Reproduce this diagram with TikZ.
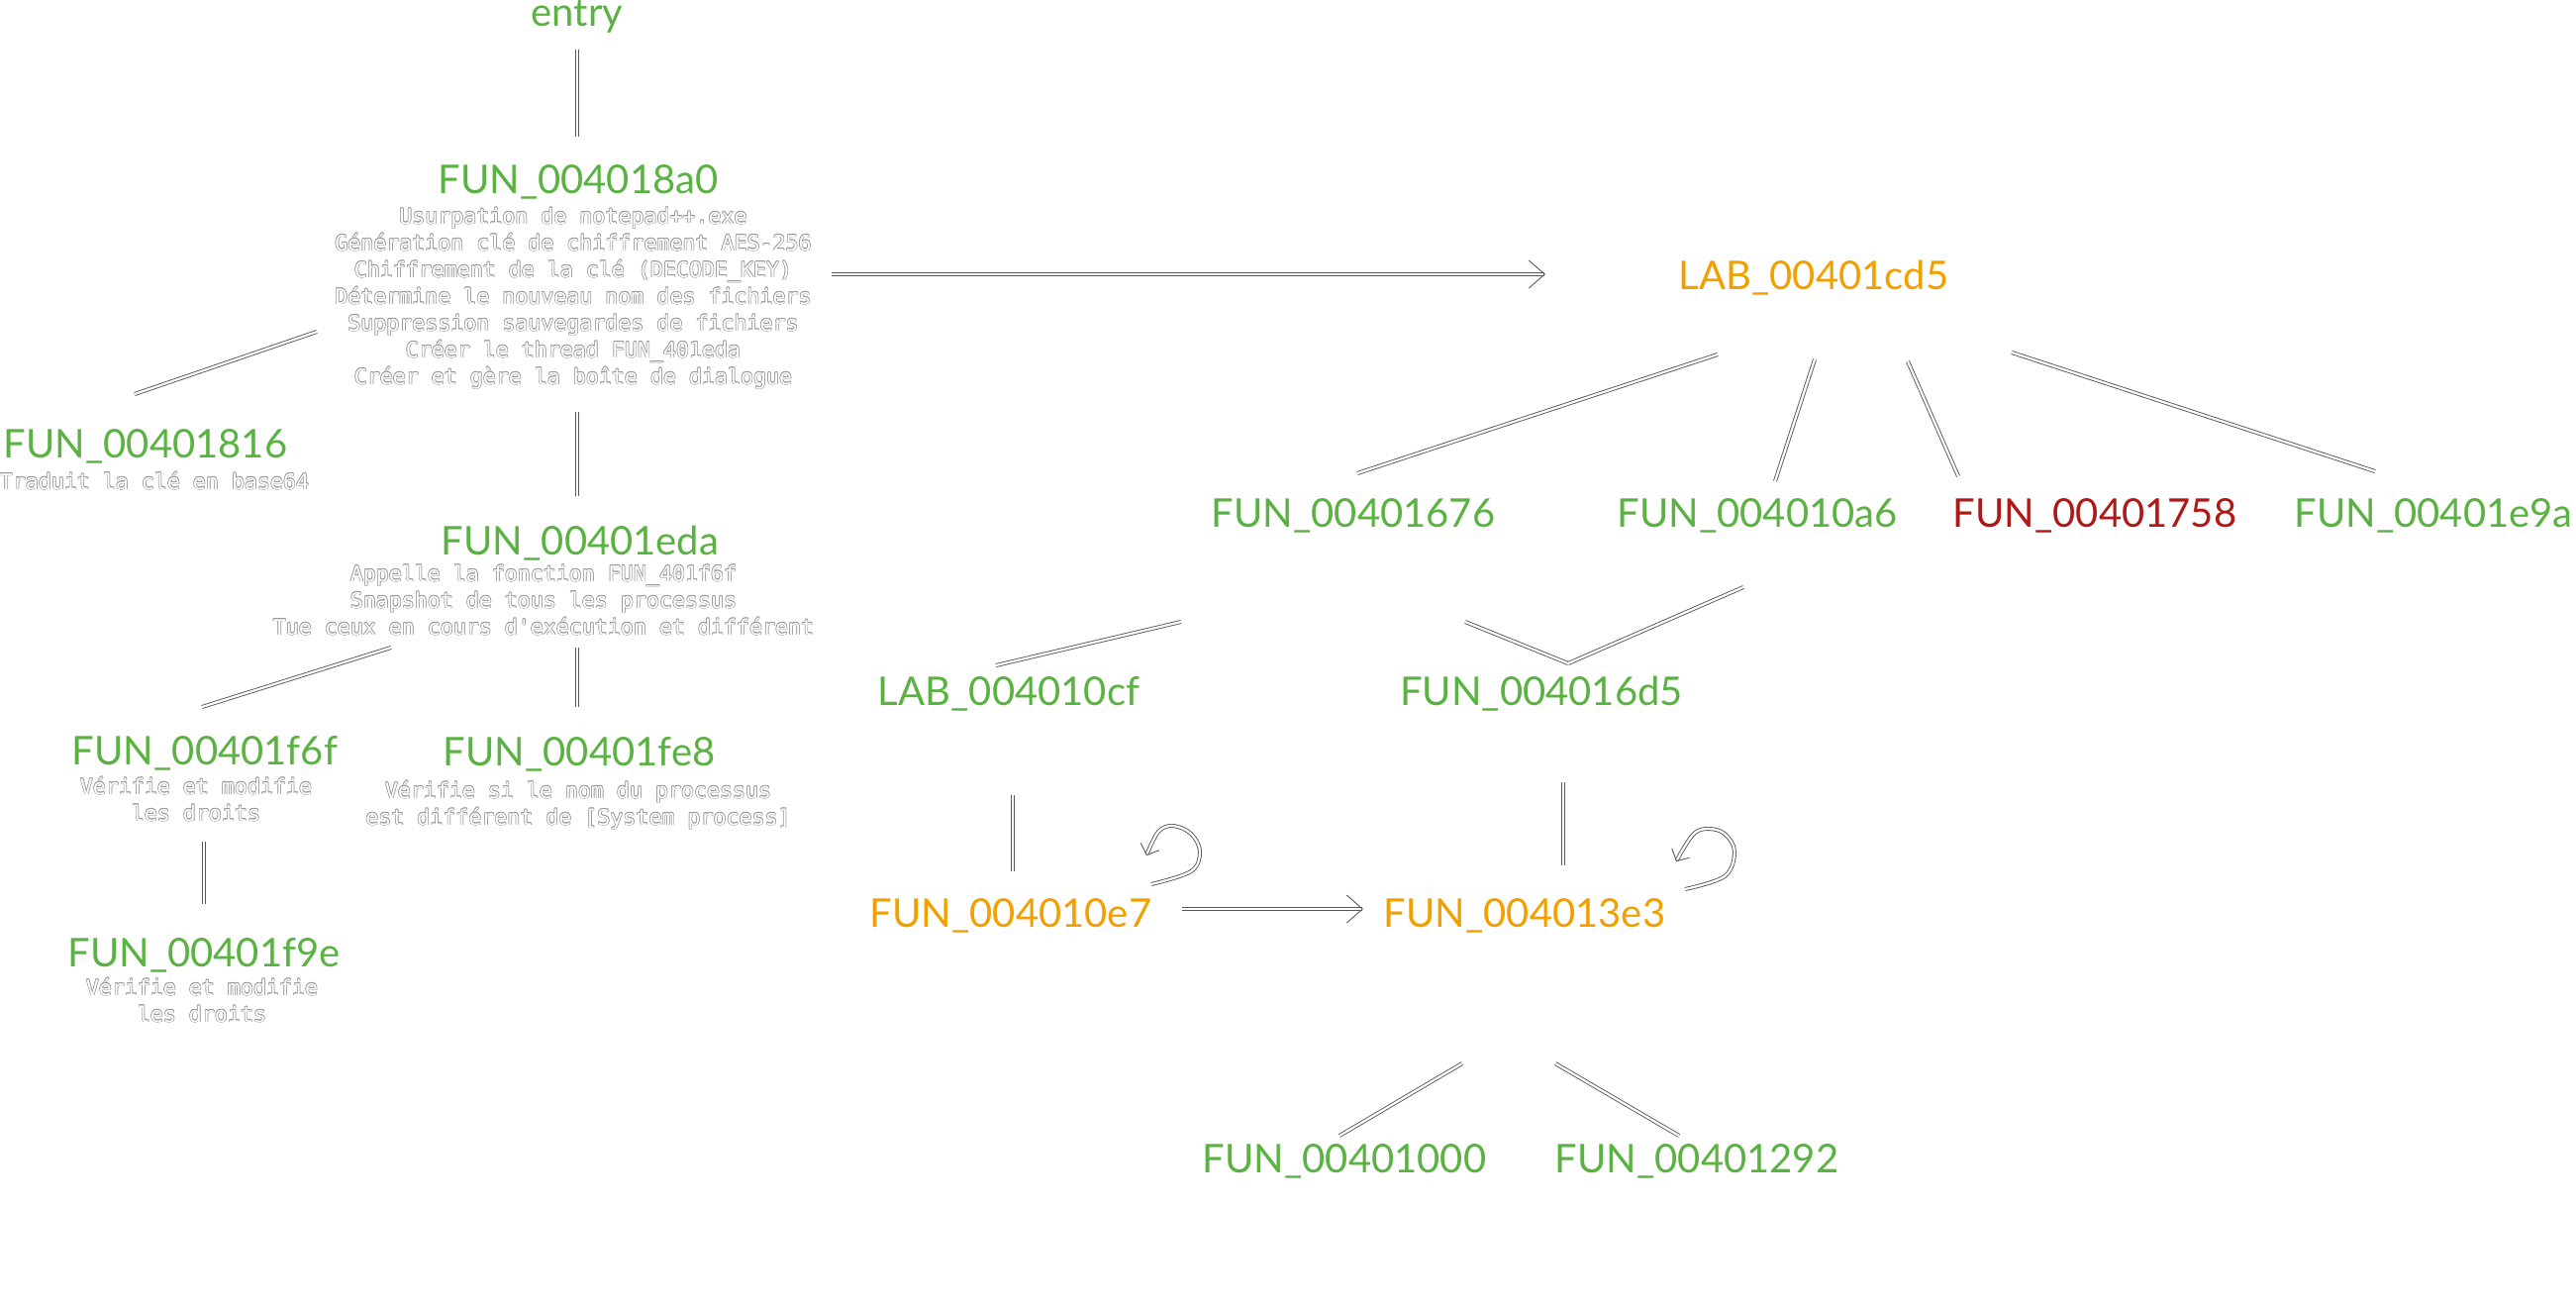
\documentclass[tikz,border=0pt]{standalone}
\usepackage{fontspec}
\usetikzlibrary{arrows.meta}
\newfontfamily\titlefam{Lato}
\newfontfamily\descfam{DejaVu Sans Mono}
\definecolor{fgr}{HTML}{5AB242}
\definecolor{forg}{HTML}{F2A000}
\definecolor{frd}{HTML}{B01818}
\definecolor{olc}{HTML}{9A9A9A}
\newcommand\otx[1]{\leavevmode{\color{olc}\rlap{\kern0.7pt#1}\rlap{\kern-0.7pt#1}\rlap{\raisebox{0.7pt}{#1}}\rlap{\raisebox{-0.7pt}{#1}}\rlap{\kern0.5pt\raisebox{0.5pt}{#1}}\rlap{\kern-0.5pt\raisebox{0.5pt}{#1}}\rlap{\kern0.5pt\raisebox{-0.5pt}{#1}}\rlap{\kern-0.5pt\raisebox{-0.5pt}{#1}}}{\color{white}#1}}
\newcommand\dl[1]{\rule{0pt}{20pt}\otx{#1}}
\tikzset{
 ttl/.style={font=\titlefam\fontsize{40}{48}\selectfont, anchor=base, inner sep=0pt},
 tgr/.style={ttl, text=fgr},
 tor/.style={ttl, text=forg},
 trd/.style={ttl, text=frd},
 dsc/.style={font=\descfam\fontsize{21.6}{27}\selectfont, anchor=north, align=center, inner sep=0pt},
 conn/.style={draw=black!65, line width=0.9pt, double=white, double distance=2.2pt},
 arr/.style={conn, -{Straight Barb[length=16pt,width=28pt]}},
 larr/.style={conn, -{Straight Barb[length=9pt,width=20pt]}},
}
\begin{document}
\begin{tikzpicture}[x=1pt,y=-1pt]
\useasboundingbox (0,0) rectangle (2602,1320);
\fill[white] (0,0) rectangle (2602,1320);
% left tree
\node[tgr] (entry) at (583,26) {entry};
\node[tgr] (t18a0) at (584,195) {FUN\_004018a0};
\node[dsc] (d18a0) at (579,206) {\dl{Usurpation de notepad++.exe}\\\dl{Génération clé de chiffrement AES-256}\\\dl{Chiffrement de la clé (DECODE\_KEY)}\\\dl{Détermine le nouveau nom des fichiers}\\\dl{Suppression sauvegardes de fichiers}\\\dl{Créer le thread FUN\_401eda}\\\dl{Créer et gère la boîte de dialogue}};
\node[tgr] (t1816) at (147,462) {FUN\_00401816};
\node[dsc] (d1816) at (156,474) {\dl{Traduit la clé en base64}};
\node[tgr] (teda) at (586,560) {FUN\_00401eda};
\node[dsc] (deda) at (549,567) {\dl{Appelle la fonction FUN\_401f6f}\\\dl{Snapshot de tous les processus}\\\dl{Tue ceux en cours d'exécution et différent}};
\node[tgr] (tf6f) at (207,772) {FUN\_00401f6f};
\node[dsc] (df6f) at (198,782) {\dl{Vérifie et modifie}\\\dl{les droits}};
\node[tgr] (tfe8) at (585,773) {FUN\_00401fe8};
\node[dsc] (dfe8) at (584,786) {\dl{Vérifie si le nom du processus}\\\dl{est différent de [System process]}};
\node[tgr] (tf9e) at (206,976) {FUN\_00401f9e};
\node[dsc] (df9e) at (204,985) {\dl{Vérifie et modifie}\\\dl{les droits}};
% right tree
\node[tor] (tcd5) at (1832,292) {LAB\_00401cd5};
\node[tgr] (t1676) at (1367,532) {FUN\_00401676};
\node[tgr] (t10a6) at (1775,532) {FUN\_004010a6};
\node[trd] (t1758) at (2116,532) {FUN\_00401758};
\node[tgr] (te9a) at (2458,532) {FUN\_00401e9a};
\node[tgr] (t10cf) at (1019,712) {LAB\_004010cf};
\node[tgr] (t16d5) at (1557,712) {FUN\_004016d5};
\node[tor] (t10e7) at (1021,936) {FUN\_004010e7};
\node[tor] (t13e3) at (1540,936) {FUN\_004013e3};
\node[tgr] (t1000) at (1358,1184) {FUN\_00401000};
\node[tgr] (t1292) at (1714,1184) {FUN\_00401292};
% connectors
\draw[conn] ([shift={(0,24)}]entry.base) -- ([shift={(-1,-57)}]t18a0.base);
\draw[conn] ([shift={(-259,129)}]d18a0.north) -- ([shift={(-11,-64)}]t1816.base);
\draw[conn] ([shift={(4,210)}]d18a0.north) -- ([shift={(-3,-59)}]teda.base);
\draw[arr] ([shift={(261,71)}]d18a0.north) -- ([shift={(-271,-15)}]tcd5.base);
\draw[conn] ([shift={(-154,87)}]deda.north) -- ([shift={(-3,-58)}]tf6f.base);
\draw[conn] ([shift={(34,87)}]deda.north) -- ([shift={(-2,-59)}]tfe8.base);
\draw[conn] ([shift={(8,68)}]df6f.north) -- ([shift={(0,-63)}]tf9e.base);
\draw[conn] ([shift={(-97,66)}]tcd5.base) -- ([shift={(4,-54)}]t1676.base);
\draw[conn] ([shift={(1,71)}]tcd5.base) -- ([shift={(18,-46)}]t10a6.base);
\draw[conn] ([shift={(95,73)}]tcd5.base) -- ([shift={(-138,-51)}]t1758.base);
\draw[conn] ([shift={(200,64)}]tcd5.base) -- ([shift={(-59,-56)}]te9a.base);
\draw[conn] ([shift={(-174,96)}]t1676.base) -- ([shift={(-13,-40)}]t10cf.base);
\draw[conn] ([shift={(113,96)}]t1676.base) -- ([shift={(27,-42)}]t16d5.base);
\draw[conn] ([shift={(-14,61)}]t10a6.base) -- ([shift={(27,-42)}]t16d5.base);
\draw[conn] ([shift={(4,91)}]t10cf.base) -- ([shift={(2,-56)}]t10e7.base);
\draw[conn] ([shift={(22,78)}]t16d5.base) -- ([shift={(39,-62)}]t13e3.base);
\draw[arr] ([shift={(173,-18)}]t10e7.base) -- ([shift={(-163,-18)}]t13e3.base);
\draw[conn] ([shift={(-63,138)}]t13e3.base) -- ([shift={(-5,-37)}]t1000.base);
\draw[conn] ([shift={(31,138)}]t13e3.base) -- ([shift={(-18,-37)}]t1292.base);
% self loops
\begin{scope}[shift={(t10e7.base)}]
\draw[larr] plot[smooth, tension=0.6] coordinates {(142,-43) (182,-56) (191,-76) (182,-94) (164,-102) (149,-96) (137,-72)};
\end{scope}
\begin{scope}[shift={(t13e3.base)}]
\draw[larr] plot[smooth, tension=0.6] coordinates {(162,-38) (202,-51) (212,-76) (202,-94) (185,-99) (170,-93) (153,-66)};
\end{scope}
\end{tikzpicture}
\end{document}
